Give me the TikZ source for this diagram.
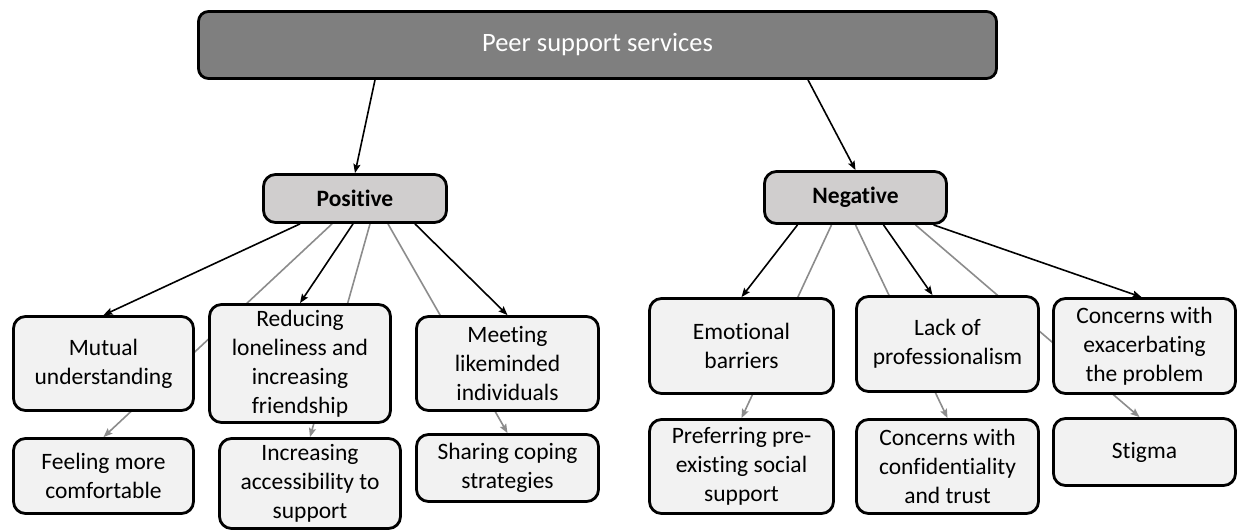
\documentclass[tikz,border=0pt]{standalone}
\usepackage{fontspec}
\setmainfont{Carlito}[Ligatures=NoCommon]
\usetikzlibrary{arrows.meta,calc,backgrounds}
\definecolor{topfill}{HTML}{7F7F7F}
\definecolor{catfill}{HTML}{D0CECE}
\definecolor{boxfill}{HTML}{F2F2F2}
\definecolor{linkgray}{HTML}{8C8C8C}
\begin{document}
\begin{tikzpicture}[x=1pt,y=-1pt,
  base/.style={draw=black, line width=2.8pt, rounded corners=12pt, align=center, inner sep=2pt},
  topbox/.style={base, fill=topfill, text=white, rounded corners=10pt, font=\fontsize{26.5}{32}\selectfont},
  catbox/.style={base, fill=catfill, font=\bfseries\fontsize{23.5}{29}\selectfont},
  leafbox/.style={base, fill=boxfill, font=\fontsize{23.5}{29}\selectfont},
  blk/.style={draw=black, line width=1.6pt, -{Stealth[length=9pt,width=7pt,inset=1.5pt]}},
  gry/.style={draw=linkgray, line width=1.6pt, -{Stealth[length=9pt,width=7pt,inset=1.5pt]}}]
\useasboundingbox (0,0) rectangle (1239,532);

% top
\node[topbox, minimum width=798pt, minimum height=67pt] (top) at (597.5,45) {Peer support services};

% categories
\node[catbox, minimum width=183pt, minimum height=48pt] (pos) at (355,198.5) {Positive};
\node[catbox, minimum width=182pt, minimum height=52pt] (neg) at (855.5,197.5) {Negative};

% positive, middle row
\node[leafbox, minimum width=180pt, minimum height=94pt] (mutual) at (103.5,363.5) {Mutual\\understanding};
\node[leafbox, minimum width=181pt, minimum height=118pt] (reduce) at (300,363.5) {Reducing\\loneliness and\\increasing\\friendship};
\node[leafbox, minimum width=182pt, minimum height=94pt] (meet) at (507.5,363.5) {Meeting\\likeminded\\individuals};

% positive, bottom row
\node[leafbox, minimum width=180pt, minimum height=75pt] (feel) at (103.5,476) {Feeling more\\comfortable};
\node[leafbox, minimum width=181pt, minimum height=90pt] (access) at (310,483.5) {Increasing\\accessibility to\\support};
\node[leafbox, minimum width=182pt, minimum height=67pt] (share) at (507.5,468) {Sharing coping\\strategies};

% negative, middle row
\node[leafbox, minimum width=184pt, minimum height=95pt] (emo) at (741.5,346) {Emotional\\barriers};
\node[leafbox, minimum width=182pt, minimum height=95pt] (lack) at (947.5,344) {Lack of\\professionalism};
\node[leafbox, minimum width=182pt, minimum height=95pt] (exac) at (1144.5,346) {Concerns with\\exacerbating\\the problem};

% negative, bottom row
\node[leafbox, minimum width=184pt, minimum height=94pt] (pref) at (741.5,466.5) {Preferring pre-\\existing social\\support};
\node[leafbox, minimum width=182pt, minimum height=94pt] (conf) at (947.5,466.5) {Concerns with\\confidentiality\\and trust};
\node[leafbox, minimum width=182pt, minimum height=67pt] (stig) at (1144.5,452) {Stigma};

% gray connectors behind the boxes
\begin{scope}[on background layer]
\draw[gry] ($(pos.south)+(-23,0)$) -- (feel.north);
\draw[gry] ($(pos.south)+(15,0)$) -- (access.north);
\draw[gry] ($(pos.south)+(33,0)$) -- (share.north);
\draw[gry] ($(neg.south)+(-24,0)$) -- (pref.north);
\draw[gry] ($(neg.south)+(0,0)$) -- (conf.north);
\draw[gry] ($(neg.south)+(60,0)$) -- ($(stig.north)+(-5,0)$);
\end{scope}

% black connectors
\draw[blk] ($(top.south)+(-222.5,0)$) -- (pos.north);
\draw[blk] ($(top.south)+(210.5,0)$) -- (neg.north);
\draw[blk] ($(pos.south)+(-55,0)$) -- (mutual.north);
\draw[blk] ($(pos.south)+(-2,0)$) -- (reduce.north);
\draw[blk] ($(pos.south)+(60,0)$) -- (meet.north);
\draw[blk] ($(neg.south)+(-58,0)$) -- (emo.north);
\draw[blk] ($(neg.south)+(28,0)$) -- ($(lack.north)+(-15,0)$);
\draw[blk] ($(neg.south)+(78,0)$) -- ($(exac.north)+(-3,0)$);
\end{tikzpicture}
\end{document}
